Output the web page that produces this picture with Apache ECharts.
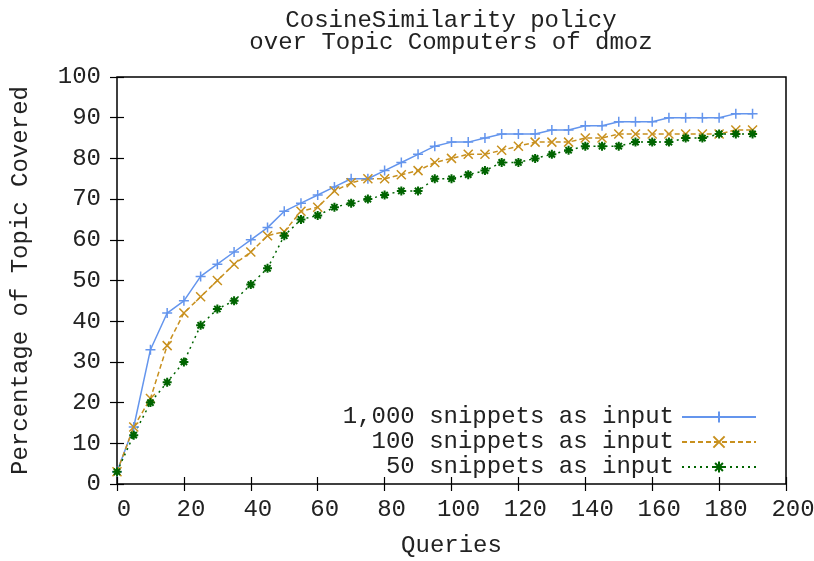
<!DOCTYPE html>
<html>
<head>
<meta charset="utf-8">
<script src="https://cdn.jsdelivr.net/npm/echarts@6/dist/echarts.min.js"></script>
<style>
  html, body { margin: 0; padding: 0; background: #fff; }
  #chart { width: 814px; height: 561px; }
</style>
</head>
<body>
<div id="chart"></div>
<script>
// queries (x) and percentage of topic covered (y)
var queries = [0, 5, 10, 15, 20, 25, 30, 35, 40, 45, 50, 55, 60, 65, 70, 75, 80, 85, 90, 95,
  100, 105, 110, 115, 120, 125, 130, 135, 140, 145, 150, 155, 160, 165, 170, 175, 180, 185, 190];
var snippets1000 = [3, 14, 33, 42, 45, 51, 54, 57, 60, 63, 67, 69, 71, 73, 75, 75, 77, 79, 81, 83,
  84, 84, 85, 86, 86, 86, 87, 87, 88, 88, 89, 89, 89, 90, 90, 90, 90, 91, 91];
var snippets100 = [3, 14, 21, 34, 42, 46, 50, 54, 57, 61, 62, 67, 68, 72, 74, 75, 75, 76, 77, 79,
  80, 81, 81, 82, 83, 84, 84, 84, 85, 85, 86, 86, 86, 86, 86, 86, 86, 87, 87];
var snippets50 = [3, 12, 20, 25, 30, 39, 43, 45, 49, 53, 61, 65, 66, 68, 69, 70, 71, 72, 72, 75,
  75, 76, 77, 79, 79, 80, 81, 82, 83, 83, 83, 84, 84, 84, 85, 85, 86, 86, 86];
var seriesNames = ['1,000 snippets as input', '100 snippets as input', '50 snippets as input'];

function pairs(ys) {
  return queries.map(function (q, i) { return [q, ys[i]]; });
}

var font = '"Liberation Mono", "DejaVu Sans Mono", monospace';
var txt = '#222';
var plusPath = 'path://M0,5L10,5M5,0L5,10';
var crossPath = 'path://M0,0L10,10M10,0L0,10';
var starPath = 'path://M0,5L10,5M5,0L5,10M1.5,1.5L8.5,8.5M8.5,1.5L1.5,8.5';

var myChart = echarts.init(document.getElementById('chart'));

function axisBase(extra) {
  var a = {
    type: 'value',
    axisLine: {show: false},
    splitLine: {show: false},
    axisTick: {show: true, inside: true, length: 7, lineStyle: {color: '#000', width: 1.2}},
    axisLabel: {color: txt, fontFamily: font, fontSize: 24}
  };
  for (var k in extra) a[k] = extra[k];
  return a;
}

var option = {
  animation: false,
  title: {
    text: 'CosineSimilarity policy\nover Topic Computers of dmoz',
    left: 446,
    textAlign: 'center',
    top: 5,
    textStyle: {fontFamily: font, fontSize: 24, fontWeight: 'normal', color: txt, lineHeight: 22}
  },
  grid: {
    left: 117, right: 28, top: 77, bottom: 77,
    outerBoundsMode: 'none',
    show: true, borderColor: '#000', borderWidth: 1.5
  },
  legend: {
    orient: 'vertical',
    right: 52,
    top: 400,
    align: 'right',
    itemWidth: 74,
    itemHeight: 14,
    itemGap: 1,
    textStyle: {fontFamily: font, fontSize: 24, color: txt, padding: [0, 3, 0, 0]},
    data: seriesNames
  },
  xAxis: [
    axisBase({
      min: 0, max: 200, interval: 20,
      name: 'Queries', nameLocation: 'middle', nameGap: 50,
      nameTextStyle: {fontFamily: font, fontSize: 24, color: txt},
      axisLabel: {color: txt, fontFamily: font, fontSize: 24, margin: 14, padding: [0, 0, 0, 14]}
    }),
    axisBase({min: 0, max: 200, interval: 20, position: 'top', axisLabel: {show: false}})
  ],
  yAxis: [
    axisBase({
      min: 0, max: 100, interval: 10,
      name: 'Percentage of Topic Covered', nameLocation: 'middle', nameGap: 84,
      nameTextStyle: {fontFamily: font, fontSize: 24, color: txt},
      axisLabel: {color: txt, fontFamily: font, fontSize: 24, margin: 16}
    }),
    axisBase({min: 0, max: 100, interval: 10, position: 'right', axisLabel: {show: false}})
  ],
  series: [
    {
      name: seriesNames[0], type: 'line', data: pairs(snippets1000),
      symbol: plusPath, symbolSize: 10,
      lineStyle: {color: '#6495ed', width: 1.5, type: 'solid'},
      itemStyle: {color: '#6495ed', borderColor: '#6495ed', borderWidth: 1.5}
    },
    {
      name: seriesNames[1], type: 'line', data: pairs(snippets100),
      symbol: crossPath, symbolSize: 9,
      lineStyle: {color: '#c8901e', width: 1.5, type: [5, 3]},
      itemStyle: {color: '#c8901e', borderColor: '#c8901e', borderWidth: 1.5}
    },
    {
      name: seriesNames[2], type: 'line', data: pairs(snippets50),
      symbol: starPath, symbolSize: 9,
      lineStyle: {color: '#006400', width: 1.5, type: [2, 4]},
      itemStyle: {color: '#006400', borderColor: '#006400', borderWidth: 2}
    }
  ]
};
myChart.setOption(option);
</script>
</body>
</html>
